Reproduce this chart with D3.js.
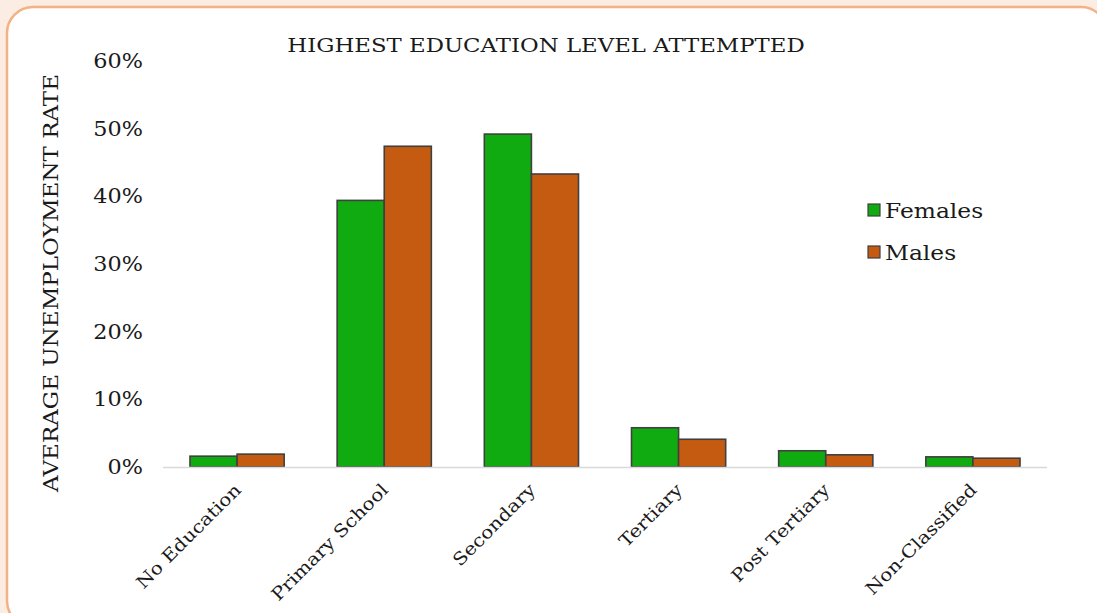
<!DOCTYPE html>
<html>
<head>
<meta charset="utf-8">
<script src="https://cdn.jsdelivr.net/npm/d3@7"></script>
<style>
  html, body { margin: 0; padding: 0; background: #fbede3; }
  svg { display: block; }
</style>
</head>
<body>
<svg id="chart" width="1097" height="613"></svg>
<script>
// Unemployment rate by highest education level attempted
const categories = ["No Education", "Primary School", "Secondary", "Tertiary", "Post Tertiary", "Non-Classified"];
const females = [1.6, 39.4, 49.2, 5.8, 2.4, 1.5];
const males = [1.9, 47.4, 43.3, 4.1, 1.8, 1.3];
const seriesNames = ["Females", "Males"];
const seriesColors = ["#10ab10", "#c55a11"];
const yTicks = [0, 10, 20, 30, 40, 50, 60];

const font = "'DejaVu Serif', 'Liberation Serif', serif";
const svg = d3.select("#chart");

// widen serif glyphs to a broader book-face proportion
function widen(sel, factor) {
  sel.each(function () {
    const w = this.getComputedTextLength();
    d3.select(this).attr("textLength", w * factor).attr("lengthAdjust", "spacingAndGlyphs");
  });
}

// card panel
svg.append("rect")
  .attr("x", 7).attr("y", 7)
  .attr("width", 1100).attr("height", 620)
  .attr("rx", 26).attr("ry", 26)
  .attr("fill", "#ffffff")
  .attr("stroke", "#f4b183")
  .attr("stroke-width", 2.5);

const x = d3.scaleBand().domain(categories).range([163.5, 1046.5]).paddingInner(0.36).paddingOuter(0.18);
const y = d3.scaleLinear().domain([0, 60]).range([467, 61]);
const xs = d3.scaleBand().domain(seriesNames).range([0, x.bandwidth()]);

// title
const title = svg.append("text")
  .attr("x", 546).attr("y", 52)
  .attr("text-anchor", "middle")
  .attr("font-family", font)
  .attr("font-size", 19)
  .attr("fill", "#1a1a1a")
  .text("HIGHEST EDUCATION LEVEL ATTEMPTED");
widen(title, 1.2);

// y axis tick labels
const yAxis = d3.axisLeft(y).tickValues(yTicks).tickFormat(d => d + "%").tickSize(0).tickPadding(0);
const gy = svg.append("g").attr("transform", "translate(143,0)").call(yAxis);
gy.select(".domain").remove();
gy.selectAll("text")
  .attr("font-family", font)
  .attr("font-size", 20.5)
  .attr("fill", "#1a1a1a");
widen(gy.selectAll("text"), 1.09);

// y axis title
const yTitle = svg.append("text")
  .attr("transform", "translate(58,283) rotate(-90)")
  .attr("text-anchor", "middle")
  .attr("font-family", font)
  .attr("font-size", 19.5)
  .attr("fill", "#1a1a1a")
  .text("AVERAGE UNEMPLOYMENT RATE");
widen(yTitle, 1.18);

// bars
const data = categories.map((c, i) => ({ c, vals: [females[i], males[i]] }));
const groups = svg.append("g").selectAll("g").data(data).join("g")
  .attr("transform", d => `translate(${x(d.c)},0)`);
groups.selectAll("rect")
  .data(d => d.vals.map((v, j) => ({ v, s: seriesNames[j], j })))
  .join("rect")
  .attr("x", d => xs(d.s))
  .attr("y", d => y(d.v))
  .attr("width", xs.bandwidth())
  .attr("height", d => y(0) - y(d.v))
  .attr("fill", d => seriesColors[d.j])
  .attr("stroke", "#404040")
  .attr("stroke-width", 1.6);

// baseline
svg.append("line")
  .attr("x1", 163).attr("x2", 1047)
  .attr("y1", y(0) + 0.5).attr("y2", y(0) + 0.5)
  .attr("stroke", "#d9d9d9").attr("stroke-width", 1.5);

// category labels
const xAxis = d3.axisBottom(x).tickSize(0).tickPadding(0);
const gx = svg.append("g").attr("transform", `translate(0,${y(0)})`).call(xAxis);
gx.select(".domain").remove();
gx.selectAll("text")
  .attr("font-family", font)
  .attr("font-size", 17.5)
  .attr("fill", "#1a1a1a")
  .attr("text-anchor", "end")
  .attr("dy", null)
  .attr("transform", "translate(5,24) rotate(-45)");
widen(gx.selectAll("text"), 1.15);

// legend
const legend = svg.append("g").selectAll("g").data(seriesNames).join("g")
  .attr("transform", (d, i) => `translate(868,${204 + i * 42})`);
legend.append("rect")
  .attr("width", 12).attr("height", 12)
  .attr("fill", (d, i) => seriesColors[i])
  .attr("stroke", "#404040").attr("stroke-width", 1.2);
const legendText = legend.append("text")
  .attr("x", 17).attr("y", 14)
  .attr("font-family", font)
  .attr("font-size", 20.5)
  .attr("fill", "#1a1a1a")
  .text(d => d);
widen(legendText, 1.14);
</script>
</body>
</html>
